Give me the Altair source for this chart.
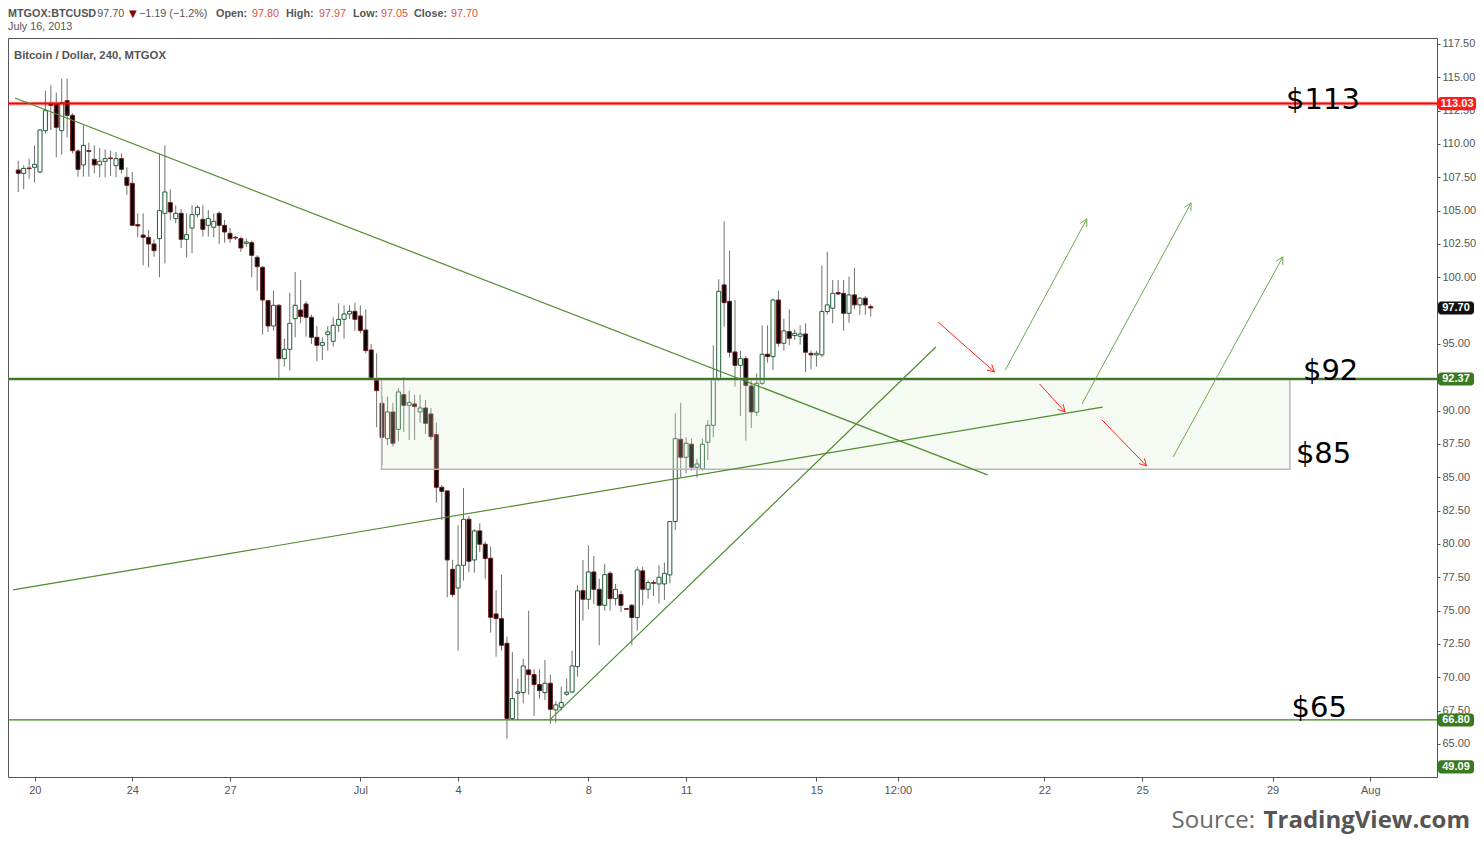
import math
import altair as alt
import pandas as pd

# ---------------- data ----------------
OPEN = [108.05, 107.80, 108.20, 108.25, 107.90, 111.00, 113.05, 112.98, 111.00, 113.25,
        112.15, 109.47, 108.43, 109.50, 108.85, 108.43, 108.70, 108.95, 108.37, 108.90,
        107.50, 107.05, 103.95, 103.17, 103.00, 102.50, 102.90, 104.80, 105.60, 104.40,
        104.80, 102.85, 103.70, 104.70, 104.35, 103.90, 103.75, 104.80, 103.90, 103.30,
        103.00, 102.90, 102.55, 102.60, 101.50, 100.75, 98.25, 96.35, 97.90, 93.90,
        94.60, 96.90, 97.55, 98.00, 97.00, 95.50, 94.90, 95.70, 95.20, 96.40,
        96.85, 97.25, 97.45, 97.10, 96.05, 94.55, 92.30, 90.55, 87.90, 89.90,
        88.60, 91.20, 90.40, 90.50, 89.90, 90.20, 89.75, 88.20, 84.25, 83.98,
        78.10, 76.70, 78.40, 81.85, 78.80, 80.98, 79.98, 78.93, 74.75, 74.40,
        72.55, 66.90, 68.80, 68.85, 70.55, 70.20, 69.45, 68.85, 69.55, 67.55,
        67.75, 68.73, 68.90, 70.80, 76.50, 75.85, 77.90, 76.60, 75.40, 77.80,
        75.90, 76.20, 75.15, 75.40, 74.48, 77.98, 76.60, 77.10, 77.00, 77.00,
        77.68, 81.68, 87.85, 86.50, 87.48, 85.75, 85.63, 87.63, 88.90, 92.40,
        99.43, 98.20, 94.40, 93.40, 93.90, 91.85, 89.88, 92.05, 94.23, 94.05,
        98.30, 95.05, 95.93, 95.63, 95.58, 95.75, 94.30, 94.18, 94.18, 97.43,
        97.68, 98.85, 98.80, 97.30, 98.68, 97.93, 98.43, 97.80]
HIGH = [108.75, 108.40, 108.90, 109.90, 111.10, 114.00, 114.40, 113.85, 114.90, 114.90,
        112.30, 109.60, 111.40, 110.10, 109.90, 109.70, 109.60, 109.50, 109.40, 109.30,
        108.25, 107.90, 104.80, 104.80, 103.55, 102.85, 109.30, 109.90, 106.60, 105.40,
        105.10, 104.80, 105.40, 105.40, 105.40, 105.05, 104.80, 104.95, 104.30, 103.70,
        103.10, 103.05, 102.90, 102.75, 101.65, 100.85, 98.30, 99.00, 98.00, 95.40,
        98.85, 100.40, 99.80, 98.20, 97.20, 96.35, 95.50, 96.35, 97.00, 98.05,
        97.90, 97.90, 98.10, 97.90, 97.60, 95.00, 94.30, 91.10, 91.05, 90.60,
        91.70, 92.50, 91.50, 91.20, 91.20, 90.80, 90.20, 89.10, 84.40, 84.00,
        78.80, 81.40, 84.20, 82.10, 81.10, 81.55, 80.20, 79.80, 76.55, 77.70,
        73.05, 71.90, 69.90, 71.40, 75.00, 70.60, 70.60, 71.30, 70.20, 68.20,
        69.30, 69.90, 72.00, 76.90, 78.80, 79.90, 79.10, 77.40, 78.50, 77.95,
        77.00, 76.50, 75.15, 75.50, 78.30, 78.30, 77.30, 77.30, 78.40, 78.60,
        81.70, 89.80, 90.60, 88.00, 87.90, 86.40, 87.90, 89.30, 94.90, 99.85,
        104.20, 102.00, 98.30, 94.50, 94.10, 92.25, 92.80, 96.40, 96.40, 98.40,
        99.00, 96.90, 97.60, 96.10, 96.40, 96.55, 94.50, 94.50, 100.90, 101.90,
        99.80, 99.80, 99.80, 100.05, 100.70, 98.50, 98.60, 97.97]
LOW = [106.40, 106.60, 107.40, 107.10, 107.80, 110.80, 111.05, 109.00, 109.20, 110.50,
       109.30, 107.55, 107.55, 107.55, 107.80, 107.50, 107.50, 107.60, 107.50, 107.80,
       106.20, 103.85, 103.00, 100.90, 100.75, 101.55, 100.00, 101.05, 104.30, 104.05,
       102.20, 101.50, 101.80, 104.50, 103.05, 103.05, 103.00, 102.50, 102.60, 102.60,
       102.80, 101.90, 102.30, 100.00, 99.00, 95.70, 95.90, 96.00, 92.30, 93.30,
       93.00, 95.50, 96.55, 95.55, 95.00, 93.70, 93.80, 94.50, 94.80, 95.90,
       95.40, 96.90, 96.00, 95.80, 94.30, 92.30, 88.75, 85.90, 87.40, 87.30,
       87.70, 88.40, 87.80, 87.80, 89.10, 88.25, 87.80, 83.10, 81.80, 76.00,
       76.00, 72.00, 77.25, 77.90, 77.85, 79.40, 77.40, 73.35, 71.55, 72.00,
       65.40, 66.80, 66.80, 68.05, 68.70, 67.10, 68.40, 68.30, 66.50, 66.60,
       67.50, 68.60, 68.80, 70.05, 74.25, 75.10, 75.50, 72.40, 75.00, 75.00,
       75.40, 74.90, 75.05, 72.40, 73.50, 75.40, 75.90, 76.10, 75.55, 75.80,
       77.05, 81.05, 85.00, 85.30, 85.50, 85.00, 85.50, 86.30, 88.00, 92.20,
       96.30, 94.00, 91.80, 89.60, 87.75, 88.70, 89.60, 91.90, 93.60, 93.05,
       94.80, 94.50, 94.90, 95.30, 94.95, 92.90, 93.10, 93.30, 94.00, 97.20,
       96.55, 98.70, 96.00, 96.60, 97.60, 97.18, 97.20, 97.05]
CLOSE = [107.80, 108.17, 108.15, 108.47, 111.05, 112.50, 112.90, 111.25, 113.10, 112.15,
         109.50, 108.10, 109.90, 109.45, 108.43, 108.70, 108.90, 108.90, 108.90, 108.10,
         106.90, 103.90, 103.85, 103.00, 102.50, 102.00, 105.00, 106.40, 104.90, 104.80,
         102.85, 103.20, 104.70, 105.25, 103.60, 104.40, 104.20, 103.90, 103.40, 102.90,
         102.95, 102.20, 102.65, 101.65, 100.80, 98.30, 96.35, 97.90, 93.90, 94.60,
         96.55, 97.90, 97.05, 97.00, 95.50, 94.90, 95.10, 95.90, 96.40, 96.85,
         97.25, 97.45, 96.85, 96.00, 94.50, 92.35, 91.50, 88.00, 89.90, 87.55,
         91.40, 90.40, 90.60, 90.30, 90.20, 89.05, 88.05, 84.25, 83.95, 78.80,
         76.20, 78.40, 81.85, 78.70, 80.98, 79.98, 78.90, 74.50, 74.40, 72.40,
         66.90, 68.40, 68.90, 70.85, 70.20, 69.45, 69.00, 69.55, 67.60, 67.93,
         68.10, 68.88, 70.85, 76.48, 75.85, 77.90, 76.60, 75.40, 77.70, 75.90,
         76.60, 75.40, 75.10, 74.48, 78.05, 76.60, 77.10, 77.05, 77.50, 77.80,
         81.68, 87.90, 86.50, 87.55, 85.75, 86.00, 87.48, 88.90, 92.40, 98.95,
         98.10, 94.38, 93.40, 93.90, 91.90, 89.90, 92.05, 94.23, 94.05, 98.30,
         95.05, 95.98, 95.43, 95.80, 95.75, 94.38, 94.18, 94.30, 97.43, 97.93,
         98.80, 98.75, 97.30, 98.68, 97.93, 98.43, 97.93, 97.70]

# x is the 4-hour bar number; tick positions/labels of the date axis
TICK_POS = [3.05, 21, 39, 63, 81, 105, 123, 147, 162, 189, 207, 231, 249]
TICK_LAB = ["20", "24", "27", "Jul", "4", "8", "11", "15", "12:00", "22", "25", "29", "Aug"]
Y_TICKS = [65.0, 67.5, 70.0, 72.5, 75.0, 77.5, 80.0, 82.5, 85.0, 87.5, 90.0, 92.5,
           95.0, 97.5, 100.0, 102.5, 105.0, 107.5, 110.0, 112.5, 115.0, 117.5]
X_DOMAIN = [-0.97, 260.37]
Y_DOMAIN = [62.52, 117.95]

RED_LEVEL = 113.03
SUPPORT_LEVEL = 92.37
LOW_LEVEL = 66.80
ZONE_X = [66.9, 234.2]
ZONE_Y = [85.6, 92.37]
TRENDS = [(-0.6, 113.45, 178.5, 85.18), (-0.97, 76.55, 199.7, 90.27), (97.9, 66.8, 169.0, 94.77)]
RED_ARROWS = [(169.4, 96.65, 179.8, 92.9), (188.1, 92.0, 192.8, 89.9), (199.6, 89.3, 207.8, 85.85)]
GREEN_ARROWS = [(181.8, 93.05, 196.8, 104.38), (195.9, 90.5, 216.0, 105.58), (212.7, 86.53, 232.9, 101.53)]
BIG_TEXT = ["$113", "$92", "$85", "$65"]
BIG_X = [233.5, 236.6, 235.3, 234.5]
BIG_Y = [112.62, 92.3, 86.1, 67.05]
TAG_TEXT = ["113.03", "92.37", "97.70", "66.80", "49.09"]
TAG_VAL = [113.03, 92.37, 97.70, 66.80, 49.09]
TAG_COL = ["#ff1a1a", "#3a7a1e", "#111111", "#3a7a1e", "#3a7a1e"]

W, H = 1429, 739
SX = W / (X_DOMAIN[1] - X_DOMAIN[0])
SY = H / (Y_DOMAIN[1] - Y_DOMAIN[0])

# ---------------- scales / axes ----------------
expr = ""
for p, lab in zip(TICK_POS, TICK_LAB):
    expr += f"datum.value == {p} ? '{lab}' : "
expr += "''"

XS = alt.Scale(domain=X_DOMAIN, nice=False, zero=False)
YS = alt.Scale(domain=Y_DOMAIN, nice=False, zero=False)
AXF = "Liberation Sans"
XAX = alt.Axis(values=TICK_POS, labelExpr=expr, title=None, grid=False, domain=False,
               tickSize=4, tickColor="#555555", labelColor="#555555", labelFont=AXF,
               labelFontSize=11, labelPadding=3, labelFlush=False, labelOverlap=False)
YAX = alt.Axis(orient="right", values=Y_TICKS, format=".2f", title=None, grid=False,
               domain=False, tickSize=3, tickColor="#555555", labelColor="#555555",
               labelFont=AXF, labelFontSize=11, labelPadding=2, labelFlush=False,
               labelOverlap=False)


def X(f):
    return alt.X(f, type="quantitative", scale=XS, axis=XAX)


def Y(f):
    return alt.Y(f, type="quantitative", scale=YS, axis=YAX)


# ---------------- candles ----------------
df = pd.DataFrame({"i": list(range(len(OPEN))), "o": OPEN, "h": HIGH, "l": LOW, "c": CLOSE})
df["dir"] = ["up" if c >= o else "down" for o, c in zip(df.o, df.c)]
df["top"] = df[["o", "c"]].max(axis=1)
df["bot"] = df[["o", "c"]].min(axis=1)

wicks = alt.Chart(df).mark_rule(color="#707070", strokeWidth=1).encode(
    x=X("i"), y=Y("l"), y2="h")
bodies = alt.Chart(df).mark_bar(size=4, strokeWidth=1, orient="vertical").encode(
    x=X("i"), y=Y("bot"), y2="top",
    fill=alt.Fill("dir:N", scale=alt.Scale(domain=["up", "down"], range=["#ffffff", "#050505"]), legend=None),
    stroke=alt.Stroke("dir:N", scale=alt.Scale(domain=["up", "down"], range=["#1e5c35", "#6e1c1c"]), legend=None))

# ---------------- zone box ----------------
zone = alt.Chart(pd.DataFrame({"x1": [ZONE_X[0]], "x2": [ZONE_X[1]], "y1": [ZONE_Y[0]], "y2": [ZONE_Y[1]]})).mark_rect(
    fill="#d6ecce", fillOpacity=0.25, stroke="#b8b8b8", strokeWidth=1.5).encode(
    x=X("x1"), x2="x2", y=Y("y1"), y2="y2")


# ---------------- horizontal levels ----------------
def hline(v, color, width, opacity=1.0):
    return alt.Chart(pd.DataFrame({"v": [v]})).mark_rule(color=color, strokeWidth=width, opacity=opacity).encode(y=Y("v"))


red_halo = hline(RED_LEVEL, "#ff0000", 4, 0.25)
red_line = hline(RED_LEVEL, "#ff0000", 2)
sup_halo = hline(SUPPORT_LEVEL, "#9a9a9a", 3.5, 0.5)
sup_line = hline(SUPPORT_LEVEL, "#3b7a22", 2)
low_line = hline(LOW_LEVEL, "#3b7d1c", 1.3)

# ---------------- trend lines and arrows ----------------
seg = pd.DataFrame(TRENDS, columns=["x1", "y1", "x2", "y2"])
trends = alt.Chart(seg).mark_rule(color="#4f8c2f", strokeWidth=1.2).encode(
    x=X("x1"), y=Y("y1"), x2="x2", y2="y2")


def arrow_segments(arrows, L=8.0, ang=28.0):
    rows = []
    for x1, y1, x2, y2 in arrows:
        rows.append((x1, y1, x2, y2))
        dx = (x2 - x1) * SX
        dy = -(y2 - y1) * SY
        n = math.hypot(dx, dy)
        bx, by = -dx / n, -dy / n
        for s in (1, -1):
            a = math.radians(ang) * s
            rx = bx * math.cos(a) - by * math.sin(a)
            ry = bx * math.sin(a) + by * math.cos(a)
            rows.append((x2, y2, x2 + rx * L / SX, y2 - ry * L / SY))
    return pd.DataFrame(rows, columns=["x1", "y1", "x2", "y2"])


red_arrows = alt.Chart(arrow_segments(RED_ARROWS)).mark_rule(color="#ff2222", strokeWidth=1).encode(
    x=X("x1"), y=Y("y1"), x2="x2", y2="y2")
green_arrows = alt.Chart(arrow_segments(GREEN_ARROWS)).mark_rule(color="#6fa84f", strokeWidth=1).encode(
    x=X("x1"), y=Y("y1"), x2="x2", y2="y2")

# ---------------- big price labels ----------------
big = alt.Chart(pd.DataFrame({"t": BIG_TEXT, "x": BIG_X, "y": BIG_Y})).mark_text(
    align="left", baseline="alphabetic", font="DejaVu Sans", fontSize=29, color="#000000").encode(
    x=X("x"), y=Y("y"), text="t:N")

# ---------------- right-side value tags ----------------
tags = pd.DataFrame({"t": TAG_TEXT, "v": TAG_VAL, "col": TAG_COL})
tags["pos"] = tags["v"].clip(lower=Y_DOMAIN[0] + 0.76)
tags["lo"] = tags["pos"] - 0.49
tags["hi"] = tags["pos"] + 0.49
tags["wide"] = tags["t"].str.len() > 5
layers_tags = []
for wide, x1, x2 in [(True, 1430, 1468), (False, 1430, 1466)]:
    sub = tags[tags["wide"] == wide]
    layers_tags.append(alt.Chart(sub).mark_rect(cornerRadius=3).encode(
        x=alt.value(x1), x2=alt.value(x2), y=Y("lo"), y2="hi",
        fill=alt.Fill("col:N", scale=None)))
    layers_tags.append(alt.Chart(sub).mark_text(
        font=AXF, fontSize=11, fontWeight="bold", color="#ffffff", align="center", baseline="middle").encode(
        x=alt.value((x1 + x2) / 2), y=Y("pos"), text="t:N"))

# ---------------- header / footer text ----------------
HF = "Liberation Sans"


def label(s, x, y, size=10.8, color="#555555", weight="normal", font=HF, align="left"):
    return alt.Chart(pd.DataFrame({"t": [s]})).mark_text(
        align=align, baseline="alphabetic", font=font, fontSize=size, fontWeight=weight, color=color).encode(
        text="t:N", x=alt.value(x), y=alt.value(y))


RED = "#e0513b"
L1 = -21.0
header = [
    label("MTGOX:BTCUSD", 0, L1, weight="bold"),
    label("97.70", 89.3, L1),
    label("▼", 121, L1, size=10, color="#8b0000", font="DejaVu Sans"),
    label("\u22121.19 (\u22121.2%)", 131, L1),
    label("Open:", 208, L1, weight="bold"),
    label("97.80", 244, L1, color=RED),
    label("High:", 278, L1, weight="bold"),
    label("97.97", 311, L1, color=RED),
    label("Low:", 345, L1, weight="bold"),
    label("97.05", 373, L1, color=RED),
    label("Close:", 406, L1, weight="bold"),
    label("97.70", 443, L1, color=RED),
    label("July 16, 2013", 0, -8.5),
    label("Bitcoin / Dollar, 240, MTGOX", 6, 21.3, size=11.3, weight="bold"),
    label("Source:", 1247, 790, size=24, color="#6a6a6a", font="Open Sans", align="right"),
    label("TradingView.com", 1462, 790, size=24, color="#555555", weight="bold", font="Open Sans", align="right"),
]

layers = [wicks, bodies, zone, red_halo, red_line, sup_halo, sup_line, low_line,
          trends, red_arrows, green_arrows, big] + layers_tags + header

chart = alt.layer(*layers).properties(
    width=W, height=H,
    autosize=alt.AutoSizeParams(type="none"),
    padding={"left": 0, "top": 30, "right": 39, "bottom": 59},
    background="#ffffff",
).configure_view(stroke="#555555", strokeWidth=1)

chart.save("out.html", embed_options={"renderer": "svg", "actions": False})
